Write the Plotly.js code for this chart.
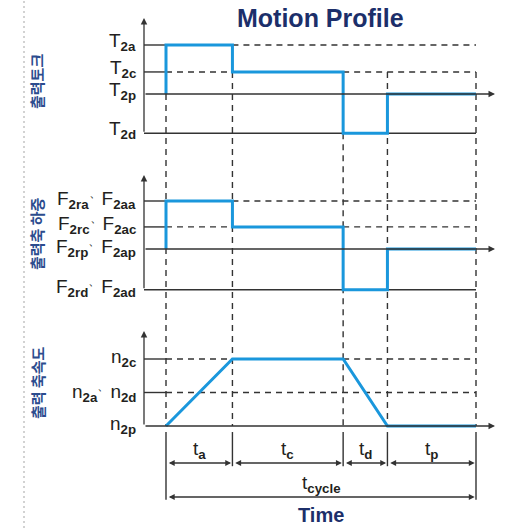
<!DOCTYPE html>
<html><head><meta charset="utf-8">
<script src="https://cdn.plot.ly/plotly-3.0.1.min.js"></script>
<style>html,body{margin:0;padding:0;background:#fff;}#chart{width:516px;height:528px;}</style>
</head><body><div id="chart"></div>
<script>
// ---- data ----
const phaseTimes = [0, 1.5, 4.0, 5.0, 7.0];          // t0, end ta, end tc, end td, end tp (= tcycle)
const phaseNames = ['a', 'c', 'd', 'p'];

const torqueLevels = [1.0, 0.45, 0.0, -0.8];         // T2a, T2c, T2p, T2d
const torqueLabels = ['2a', '2c', '2p', '2d'];
const torqueSeries = [1.0, 0.45, -0.8, 0.0];         // torque in ta, tc, td, tp

const loadLevels = [1.0, 0.46, 0.0, -0.85];          // F2ra/F2aa, F2rc/F2ac, F2rp/F2ap, F2rd/F2ad
const loadLabelsR = ['2ra', '2rc', '2rp', '2rd'];
const loadLabelsA = ['2aa', '2ac', '2ap', '2ad'];
const loadSeries = [1.0, 0.46, -0.85, 0.0];

const speedLevels = [1.0, 0.5, 0.0];                 // n2c, n2a/n2d, n2p
const speedLabels = [['2c'], ['2a', '2d'], ['2p']];
const speedPoints = [0, 1.0, 1.0, 0, 0];             // speed at phase boundaries

const panelTitles = ['출력토크', '출력축 하중', '출력 축속도'];
const chartTitle = 'Motion Profile';
const xTitle = 'Time';

// ---- geometry / style ----
const W = 516, H = 528;
const X0PX = 166, XEND = 476;
const tEnd = phaseTimes[phaseTimes.length - 1];
const ppu = (XEND - X0PX) / tEnd;
const tx = px => (px - X0PX) / ppu;
const panels = [
  {zero: 94, unit: 49, top: 10, bottom: 150},
  {zero: 249, unit: 48, top: 165, bottom: 305},
  {zero: 426, unit: 67, top: 325, bottom: 528}
];
const yName = i => i === 0 ? 'y' : 'y' + (i + 1);
const pyOf = (i, v) => 1 - (panels[i].zero - v * panels[i].unit) / H;
const BLUE = '#1a97dc', DARK = '#333333', NAVY = '#1c2f6a', KNAVY = '#2c4c8e';
const DASH = '6px,5px';
const xAxisStart = tx(144), xArrowTip = tx(495);
const SEP = '<sup>、</sup>';
const sym = (letter, subs) => subs.map(s => letter + '<sub><b>' + s + '</b></sub>').join(SEP);

function stepXY(series) {
  const xs = [phaseTimes[0]], ys = [0];
  for (let k = 0; k < series.length; k++) {
    xs.push(phaseTimes[k], phaseTimes[k + 1]);
    ys.push(series[k], series[k]);
  }
  return {xs, ys};
}
const tq = stepXY(torqueSeries), ld = stepXY(loadSeries);

const traces = [
  {x: tq.xs, y: tq.ys, xaxis: 'x', yaxis: 'y', mode: 'lines', line: {color: BLUE, width: 3}, hoverinfo: 'skip'},
  {x: ld.xs, y: ld.ys, xaxis: 'x', yaxis: 'y2', mode: 'lines', line: {color: BLUE, width: 3}, hoverinfo: 'skip'},
  {x: phaseTimes, y: speedPoints, xaxis: 'x', yaxis: 'y3', mode: 'lines', line: {color: BLUE, width: 3}, hoverinfo: 'skip'}
];

const shapes = [];
const line = (x0, y0, x1, y1, yref, dash, color, width, xref) => shapes.push({
  type: 'line', xref: xref || 'x', yref, x0, y0, x1, y1, layer: 'below',
  line: {color: color || DARK, width: width || 1.4, dash: dash || 'solid'}
});

// left dotted border
line(24 / W, 0, 24 / W, 1, 'paper', '2px,3px', '#c4c4c4', 1.5, 'paper');

// panel 1 & 2 horizontals
[[torqueLevels, 0], [loadLevels, 1]].forEach(([lv, i]) => {
  const yr = yName(i);
  line(xAxisStart, lv[0], 0, lv[0], yr);
  line(phaseTimes[1], lv[0], phaseTimes[4], lv[0], yr, DASH);
  line(xAxisStart, lv[1], 0, lv[1], yr);
  line(0, lv[1], phaseTimes[1], lv[1], yr, DASH);
  line(phaseTimes[2], lv[1], phaseTimes[4], lv[1], yr, DASH);
  line(xAxisStart, lv[3], phaseTimes[4], lv[3], yr);
});
// panel 3 horizontals
line(xAxisStart, speedLevels[0], 0, speedLevels[0], 'y3');
line(0, speedLevels[0], phaseTimes[1], speedLevels[0], 'y3', DASH);
line(phaseTimes[2], speedLevels[0], phaseTimes[4], speedLevels[0], 'y3', DASH);
line(xAxisStart, speedLevels[1], 0, speedLevels[1], 'y3');
line(0, speedLevels[1], phaseTimes[4], speedLevels[1], 'y3', DASH);

// dashed vertical guides across all panels
const guideTop = [torqueLevels[2], torqueLevels[1], torqueLevels[3], torqueLevels[1], torqueLevels[1]];
phaseTimes.forEach((t, k) => {
  line(t, pyOf(0, guideTop[k]), t, pyOf(2, 0), 'paper', DASH);
});
// extension lines below speed panel
phaseTimes.forEach((t, k) => {
  const outer = (k === 0 || k === phaseTimes.length - 1);
  line(t, -0.09, t, outer ? -1.1 : -0.6, 'y3');
});

const annotations = [];
const arrow = (x, y, ax, ay, yr, both) => annotations.push({
  x, y, ax, ay, xref: 'x', yref: yr, axref: 'x', ayref: yr, text: '', showarrow: true,
  arrowhead: 2, arrowsize: both ? 0.9 : 1, arrowwidth: 1.3, arrowcolor: DARK,
  arrowside: both ? 'end+start' : 'end', standoff: 0, startstandoff: 0
});
// axes with arrowheads
const axisTop = [(94 - 18) / 49, (249 - 175) / 48, (426 - 331) / 67];
const axisBottom = [torqueLevels[3], loadLevels[3], 0];
for (let i = 0; i < 3; i++) {
  arrow(xAxisStart, axisTop[i], xAxisStart, axisBottom[i], yName(i), false);
  arrow(xArrowTip, 0, xAxisStart, 0, yName(i), false);
}
const LF = {family: 'Liberation Sans, Arial, sans-serif', size: 19, color: '#231f20'};
// dimension arrows
const row1 = -(463 - 426) / 67, row2 = -(497 - 426) / 67;
for (let k = 0; k < phaseNames.length; k++) {
  arrow(phaseTimes[k + 1] - 0.03, row1, phaseTimes[k] + 0.03, row1, 'y3', true);
  annotations.push({x: (phaseTimes[k] + phaseTimes[k + 1]) / 2, y: -(450 - 426) / 67, xref: 'x', yref: 'y3',
    xanchor: 'center', yanchor: 'middle', text: sym('t', [phaseNames[k]]), showarrow: false, font: LF});
}
arrow(phaseTimes[4] - 0.03, row2, phaseTimes[0] + 0.03, row2, 'y3', true);
annotations.push({x: tEnd / 2, y: -(484 - 426) / 67, xref: 'x', yref: 'y3', xanchor: 'center', yanchor: 'middle',
  text: sym('t', ['cycle']), showarrow: false, font: LF});

// tick labels
const labX = 138 / W;
torqueLevels.forEach((v, k) => annotations.push({x: labX, y: v, xref: 'paper', yref: 'y', xanchor: 'right',
  yanchor: 'middle', yshift: 3, showarrow: false, text: sym('T', [torqueLabels[k]]), font: LF}));
loadLevels.forEach((v, k) => annotations.push({x: labX, y: v, xref: 'paper', yref: 'y2', xanchor: 'right',
  yanchor: 'middle', yshift: 3, showarrow: false, text: sym('F', [loadLabelsR[k], loadLabelsA[k]]), font: LF}));
speedLevels.forEach((v, k) => annotations.push({x: labX, y: v, xref: 'paper', yref: 'y3', xanchor: 'right',
  yanchor: 'middle', yshift: 1, showarrow: false, text: sym('n', speedLabels[k]), font: LF}));

// panel titles (vertical Korean)
const titleCenters = [82, 234, 383];
panelTitles.forEach((t, i) => annotations.push({x: 37 / W, y: 1 - titleCenters[i] / H, xref: 'paper', yref: 'paper',
  xanchor: 'center', yanchor: 'middle', text: t, textangle: -90, showarrow: false,
  font: {family: 'Noto Sans CJK KR, sans-serif', size: 15, weight: 'bold', color: KNAVY}}));

// chart title and x title
annotations.push({x: 320 / W, y: 1 - 18 / H, xref: 'paper', yref: 'paper', xanchor: 'center', yanchor: 'middle',
  text: chartTitle, showarrow: false,
  font: {family: 'Liberation Sans, Arial, sans-serif', size: 25, weight: 'bold', color: NAVY}});
annotations.push({x: tEnd / 2, y: -(515 - 426) / 67, xref: 'x', yref: 'y3', xanchor: 'center', yanchor: 'middle',
  text: xTitle, showarrow: false,
  font: {family: 'Liberation Sans, Arial, sans-serif', size: 20, weight: 'bold', color: NAVY}});

const hidden = {showgrid: false, zeroline: false, showticklabels: false, showline: false, ticks: '', fixedrange: true};
const layout = {
  width: W, height: H, margin: {l: 0, r: 0, t: 0, b: 0}, showlegend: false,
  paper_bgcolor: '#fff', plot_bgcolor: 'rgba(0,0,0,0)',
  xaxis: Object.assign({domain: [0, 1], range: [tx(0), tx(W)], anchor: 'y3'}, hidden),
  shapes, annotations
};
panels.forEach((p, i) => {
  layout[i === 0 ? 'yaxis' : 'yaxis' + (i + 1)] = Object.assign({
    domain: [1 - p.bottom / H, 1 - p.top / H],
    range: [-(p.bottom - p.zero) / p.unit, (p.zero - p.top) / p.unit], anchor: 'x'
  }, hidden);
});
Plotly.newPlot('chart', traces, layout, {staticPlot: true, displayModeBar: false});
</script></body></html>
